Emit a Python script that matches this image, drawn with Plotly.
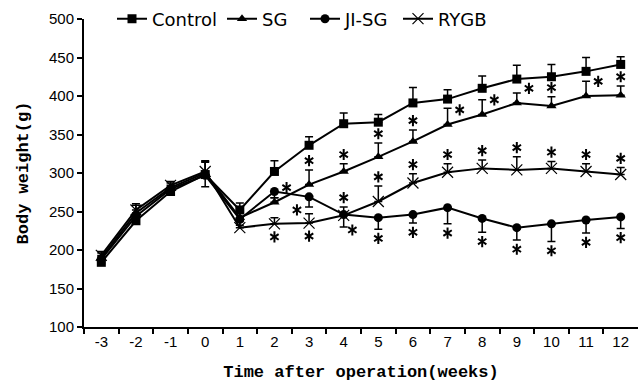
import plotly.graph_objects as go

weeks = [-3, -2, -1, 0, 1, 2, 3, 4, 5, 6, 7, 8, 9, 10, 11, 12]
tick_labels = ["-3", "-2", "-1", "0", "1", "2", "3", "4", "5", "6", "7", "8", "9", "10", "11", "12"]

control = [184, 238, 276, 298, 252, 302, 336, 364, 366, 391, 396, 410, 422, 425, 432, 441]
sg = [190, 248, 281, 300, 242, 262, 285, 302, 321, 341, 363, 376, 391, 387, 400, 401]
ji_sg = [188, 244, 279, 297, 240, 276, 269, 246, 242, 246, 255, 241, 229, 234, 239, 243]
rygb = [193, 252, 284, 302, 229, 234, 235, 245, 263, 287, 301, 306, 304, 306, 302, 298]

control_err = [8, 8, 6, 18, 9, 14, 11, 14, 10, 20, 12, 16, 18, 16, 18, 10]
sg_err = [6, 10, 6, 15, 8, 6, 19, 10, 18, 15, 21, 19, 13, 12, 19, 12]
ji_sg_err = [6, 8, 6, 15, 8, 8, 13, 16, 15, 11, 21, 18, 16, 23, 17, 15]
rygb_err = [5, 8, 5, 12, 8, 8, 12, 11, 20, 12, 11, 11, 17, 9, 10, 9]

# significance markers: placement of "*" per week ('' = none)
sg_sig = ["", "", "", "", "", "right", "above", "above", "above", "above", "right", "right", "right", "above", "right", "above"]
ji_sg_sig = ["", "", "", "", "", "", "left", "right", "below", "below", "below", "below", "below", "below", "below", "below"]
rygb_sig = ["", "", "", "", "", "below", "below", "above", "above", "above", "above", "above", "above", "above", "above", "above"]

fig = go.Figure()

def add_series(name, y, err, up, symbol, size, legend, lw=0):
    eb = dict(type="data", symmetric=False, color="black", thickness=1.5, width=4)
    if up:
        eb["array"] = err
        eb["arrayminus"] = [0] * len(err)
    else:
        eb["array"] = [0] * len(err)
        eb["arrayminus"] = err
    fig.add_trace(go.Scatter(
        x=weeks, y=y, name=name, mode="lines+markers", legend=legend,
        line=dict(color="black", width=2),
        marker=dict(symbol=symbol, size=size, color="black",
                    line=dict(color="black", width=lw)),
        error_y=eb,
    ))

add_series("Control", control, control_err, True, "square", 9, "legend")
add_series("SG", sg, sg_err, True, "triangle-up", 9, "legend2")
add_series("JI-SG", ji_sg, ji_sg_err, False, "circle", 9, "legend3")
add_series("RYGB", rygb, rygb_err, True, "x-thin-open", 11, "legend4", 1.2)

sx, sy = [], []
def stars(y, err, sig, up):
    for w, v, e, s in zip(weeks, y, err, sig):
        if s == "above":
            sx.append(w); sy.append(v + e + 12)
        elif s == "below":
            if up:
                sx.append(w); sy.append(v - 17)
            else:
                sx.append(w); sy.append(v - e - 12)
        elif s == "right":
            if up:
                sx.append(w + 0.35); sy.append(v + 19)
            else:
                sx.append(w + 0.25); sy.append(v - e - 4)
        elif s == "left":
            sx.append(w - 0.35); sy.append(v - 17)

stars(sg, sg_err, sg_sig, True)
stars(ji_sg, ji_sg_err, ji_sg_sig, False)
stars(rygb, rygb_err, rygb_sig, True)

# six-armed asterisk built from two open "y" markers
for sym in ["y-up-open", "y-down-open"]:
    fig.add_trace(go.Scatter(
        x=sx, y=sy, mode="markers",
        marker=dict(symbol=sym, size=7, color="black", line=dict(color="black", width=2)),
        showlegend=False, hoverinfo="skip",
    ))

def leg(xpx):
    return dict(orientation="h", x=(xpx - 84) / 554, y=1.0, xanchor="left", yanchor="middle",
                font=dict(family="DejaVu Sans", size=18, color="black"),
                bgcolor="rgba(0,0,0,0)", itemwidth=30)

fig.update_layout(
    width=638, height=387,
    margin=dict(l=84, r=0, t=19, b=60),
    paper_bgcolor="white", plot_bgcolor="white",
    font=dict(family="Liberation Sans", size=15, color="black"),
    showlegend=True,
    legend=leg(112), legend2=leg(222), legend3=leg(305), legend4=leg(398),
    xaxis=dict(
        range=[-3.5, 12.5], tickmode="array", tickvals=weeks, ticktext=tick_labels,
        ticks="", showgrid=False, zeroline=False,
        showline=True, linecolor="black", linewidth=2,
        minor=dict(tickmode="array", tickvals=[w + 0.5 for w in weeks[:-1]] + [-3.5],
                   ticks="outside", ticklen=5, tickwidth=2, tickcolor="black", showgrid=False),
        tickfont=dict(family="Liberation Sans", size=15),
        title=dict(text="Time after operation(weeks)", standoff=16,
                   font=dict(family="Liberation Mono", size=17, weight="bold")),
    ),
    yaxis=dict(
        range=[100, 500], tickmode="array", tickvals=[100, 150, 200, 250, 300, 350, 400, 450, 500],
        ticks="outside", ticklen=5, tickwidth=2, tickcolor="black",
        showgrid=False, zeroline=False, showline=True, linecolor="black", linewidth=2,
        tickfont=dict(family="Liberation Sans", size=15),
        title=dict(text="Body weight(g)", standoff=16,
                   font=dict(family="Liberation Mono", size=17, weight="bold")),
    ),
)

fig.write_html("out.html")
